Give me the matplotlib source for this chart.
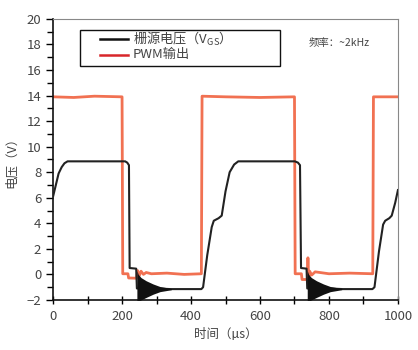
import matplotlib
matplotlib.use("Agg")
import matplotlib.pyplot as plt
from matplotlib.patches import Rectangle
from matplotlib.ticker import MultipleLocator

plt.rcParams['font.family'] = ['Noto Sans CJK SC', 'DejaVu Sans']

# gate-source voltage (us, V)
vgs_t = [0, 8, 16, 25, 33, 42, 209, 215, 220, 222, 241, 243, 300, 340,
         430, 435, 447, 460, 466, 480, 489, 500, 512, 525, 537,
         701, 710, 716, 719, 735, 737, 800, 840,
         926, 932, 945, 957, 963, 975, 982, 992, 1000]
vgs_v = [6.1, 7.0, 7.9, 8.4, 8.7, 8.85, 8.85, 8.75, 8.55, 0.5, 0.45, -1.1, -1.1, -1.15,
         -1.15, -1.0, 1.5, 3.7, 4.2, 4.4, 4.6, 6.5, 8.0, 8.6, 8.85,
         8.85, 8.75, 8.55, 0.5, 0.45, -1.1, -1.1, -1.15,
         -1.15, -1.0, 1.8, 3.9, 4.2, 4.4, 4.6, 5.6, 6.6]

# ringing envelope after turn-off
ring_t = [0, 4, 12, 27, 47, 67, 100]
ring_hi = [0.3, 0.0, -0.25, -0.5, -0.75, -0.95, -1.1]
ring_lo = [-2.2, -2.1, -2.0, -1.8, -1.55, -1.35, -1.2]
ring_start = [243, 737]

# PWM output (us, V)
pwm_t = [0, 60, 120, 200, 202, 217, 219, 242, 245, 250, 255, 262, 270, 285, 330, 380, 430,
         432, 500, 600, 700, 702, 720, 722, 737, 739, 741, 744, 750, 760, 800, 860, 927,
         929, 1000]
pwm_v = [13.9, 13.85, 13.95, 13.9, 0.05, 0.05, -0.28, -0.3, 0.3, -0.1, 0.25, 0.0, 0.15, 0.05,
         0.1, 0.0, 0.05,
         13.95, 13.9, 13.85, 13.9, 0.05, 0.05, -0.4, -0.4, 1.3, -0.3, 0.25, -0.05, 0.2, 0.05,
         0.1, 0.05, 13.9, 13.9]

legend_labels = ['栅源电压（V$_{\\mathregular{GS}}$）', 'PWM输出']
legend_colors = ['#111111', '#d8262a']

fig = plt.figure(figsize=(4.18, 3.5), dpi=100)
ax = fig.add_axes([0.127, 0.143, 0.825, 0.803])

ax.plot(pwm_t, pwm_v, color='#f0623f', lw=2.0, alpha=0.9, zorder=2)
ax.plot(vgs_t, vgs_v, color='#222222', lw=1.5, zorder=3)
for t0 in ring_start:
    ax.fill_between([t0 + dt for dt in ring_t], ring_lo, ring_hi,
                    color='#111111', lw=0, zorder=3)

ax.set_xlim(0, 1000)
ax.set_ylim(-2, 20)
ax.xaxis.set_major_locator(MultipleLocator(200))
ax.xaxis.set_minor_locator(MultipleLocator(100))
ax.yaxis.set_major_locator(MultipleLocator(2))
ax.yaxis.set_minor_locator(MultipleLocator(1))
ax.tick_params(axis='x', which='both', direction='inout', length=6, width=1,
               labelsize=9.5, labelcolor='#444444', pad=4)
ax.tick_params(axis='y', which='both', direction='out', length=5, width=1,
               labelsize=9.5, labelcolor='#444444')
ax.tick_params(axis='y', which='minor', length=4)
ax.set_yticklabels(['\u22122' if v < 0 else f'{v:g}' for v in ax.get_yticks()])

for s in ('top', 'right'):
    ax.spines[s].set_color('#888888')
for s in ('left', 'bottom'):
    ax.spines[s].set_color('#111111')
    ax.spines[s].set_linewidth(1.2)

ax.set_xlabel('时间（µs）', fontsize=9, color='#444444', labelpad=4)
ax.set_ylabel('电压（V）', fontsize=9, color='#444444', labelpad=6)

# hand-placed legend box
ax.add_patch(Rectangle((0.078, 0.833), 0.58, 0.128, transform=ax.transAxes,
                       facecolor='white', edgecolor='#111111', lw=1.0, zorder=5))
for i, (lab, col) in enumerate(zip(legend_labels, legend_colors)):
    y = 0.929 - i * 0.056
    ax.plot([0.136, 0.217], [y, y], transform=ax.transAxes, color=col, lw=1.8, zorder=6)
    ax.text(0.232, y, lab, transform=ax.transAxes, fontsize=9.5, color='#444444',
            va='center', ha='left', zorder=6)

ax.text(0.74, 0.915, '频率：~2kHz', transform=ax.transAxes, fontsize=7.5,
        color='#444444', va='center')

fig.savefig('out.png', dpi=100)
